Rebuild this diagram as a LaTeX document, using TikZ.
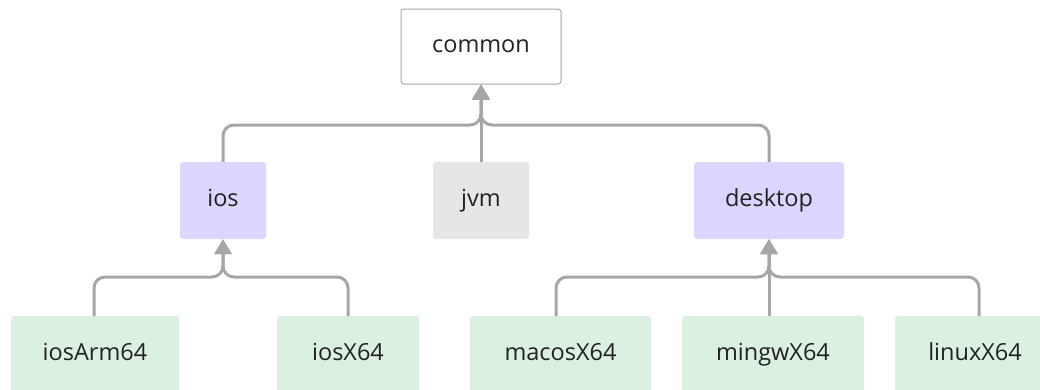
\documentclass[tikz,border=0pt]{standalone}
\usepackage{fontspec}
\setmainfont{Open Sans}
\usetikzlibrary{arrows.meta}
\definecolor{lav}{HTML}{DAD6FD}
\definecolor{grn}{HTML}{DAF0E0}
\definecolor{gry}{HTML}{E6E6E6}
\definecolor{ln}{HTML}{A6A6A6}
\definecolor{txt}{HTML}{222222}
\begin{document}
\begin{tikzpicture}[x=1pt,y=-1pt,
  box/.style={rounded corners=3pt, inner sep=0pt, text=txt, font=\fontsize{23.5}{26}\selectfont, text height=1.18em, text depth=0pt},
  conn/.style={draw=ln, line width=3pt, rounded corners=11pt, -{Triangle[length=15pt,width=17pt]}}]
\useasboundingbox (0,0) rectangle (1040,389);
\node[box, draw=ln, line width=1pt, fill=white, minimum width=160pt, minimum height=75pt] (common) at (481,46.5) {common};
\node[box, fill=lav, minimum width=86pt, minimum height=77pt] (ios) at (223,200.5) {ios};
\node[box, fill=gry, minimum width=96pt, minimum height=77pt] (jvm) at (481,200.5) {jvm};
\node[box, fill=lav, minimum width=150pt, minimum height=77pt] (desktop) at (769,200.5) {desktop};
\node[box, fill=grn, minimum width=168pt, minimum height=77pt] (iosArm) at (95,354.5) {iosArm64};
\node[box, fill=grn, minimum width=142pt, minimum height=77pt] (iosX) at (348,354.5) {iosX64};
\node[box, fill=grn, minimum width=181pt, minimum height=77pt] (macos) at (560.5,354.5) {macosX64};
\node[box, fill=grn, minimum width=182pt, minimum height=77pt] (mingw) at (773,354.5) {mingwX64};
\node[box, fill=grn, minimum width=160pt, minimum height=77pt] (linux) at (975,354.5) {linuxX64};
% top level connectors
\draw[conn] (ios.north) -- (223,125) -- (481,125) -- (common.south);
\draw[conn] (desktop.north) -- (769,125) -- (481,125) -- (common.south);
\draw[conn] (jvm.north) -- (common.south);
% ios connectors
\coordinate (a1) at (94,316);
\coordinate (a2) at (348,316);
\draw[conn] (a1) -- (94,277) -- (223,277) -- (ios.south);
\draw[conn] (a2) -- (348,277) -- (223,277) -- (ios.south);
% desktop connectors
\coordinate (b1) at (556,316);
\coordinate (b2) at (769,316);
\coordinate (b3) at (979,316);
\draw[conn] (b1) -- (556,277) -- (769,277) -- (desktop.south);
\draw[conn] (b3) -- (979,277) -- (769,277) -- (desktop.south);
\draw[conn] (b2) -- (desktop.south);
\end{tikzpicture}
\end{document}
